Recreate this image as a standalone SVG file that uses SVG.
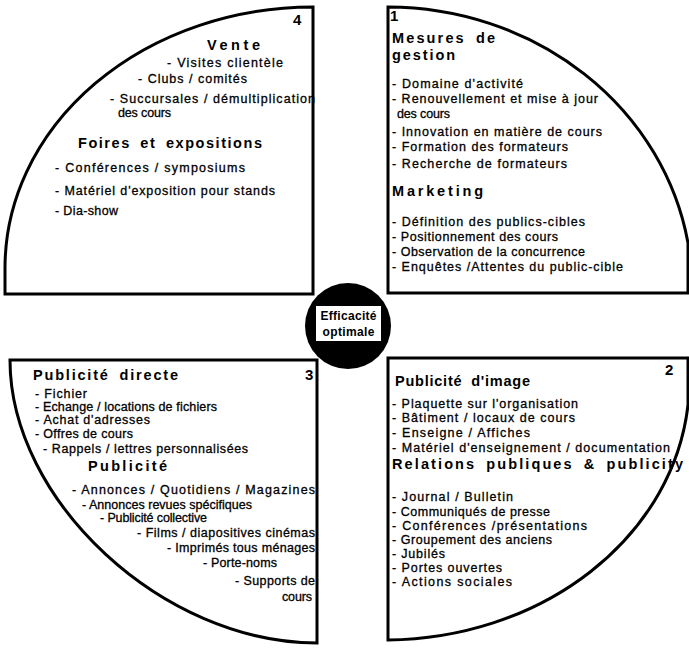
<svg xmlns="http://www.w3.org/2000/svg" width="689" height="648" viewBox="0 0 689 648">
<style>
.q{fill:#fff;stroke:#000;stroke-width:3;stroke-linejoin:miter}
.t{font-family:"Liberation Sans",Arial,sans-serif;font-size:12.5px;fill:#000;stroke:#000;stroke-width:0.3px}
.h{font-family:"Liberation Sans",Arial,sans-serif;font-size:14.5px;font-weight:bold;word-spacing:4px;fill:#000}
.n{font-family:"Liberation Sans",Arial,sans-serif;font-size:15px;font-weight:bold;fill:#000}
.c{font-family:"Liberation Sans",Arial,sans-serif;font-size:12px;font-weight:bold;text-anchor:middle;fill:#000}
</style>
<rect width="689" height="648" fill="#fff"/>
<g id="connectors"></g>
<g id="q4">
<path class="q" d="M313,7 L313,294 L5,294 L5,268 A308,261 0 0 1 313,7 Z"/>
<text class="n" x="293" y="25">4</text>
<text class="h" x="207" y="50" textLength="53">Vente</text>
<text class="t" x="167" y="67" textLength="116">- Visites clientèle</text>
<text class="t" x="138" y="83" textLength="109">- Clubs / comités</text>
<text class="t" x="110" y="103" textLength="205">- Succursales / démultiplication</text>
<text class="t" x="118" y="117" textLength="53">des cours</text>
<text class="h" x="78" y="148" textLength="184">Foires et expositions</text>
<text class="t" x="55" y="172" textLength="190">- Conférences / symposiums</text>
<text class="t" x="55" y="195" textLength="220">- Matériel d'exposition pour stands</text>
<text class="t" x="55" y="215" textLength="63">- Dia-show</text>
</g>
<g id="q1">
<path class="q" d="M388,7 A305,283 0 0 1 688,243 L688,293 L388,293 Z"/>
<text class="n" x="390" y="21">1</text>
<text class="h" x="392" y="43" textLength="103">Mesures de</text>
<text class="h" x="392" y="60" textLength="63">gestion</text>
<text class="t" x="392" y="88" textLength="131">- Domaine d'activité</text>
<text class="t" x="392" y="103" textLength="206">- Renouvellement et mise à jour</text>
<text class="t" x="397" y="118" textLength="53">des cours</text>
<text class="t" x="392" y="136" textLength="210">- Innovation en matière de cours</text>
<text class="t" x="392" y="151" textLength="176">- Formation des formateurs</text>
<text class="t" x="392" y="168" textLength="175">- Recherche de formateurs</text>
<text class="h" x="392" y="196" textLength="91">Marketing</text>
<text class="t" x="392" y="226" textLength="193">- Définition des publics-cibles</text>
<text class="t" x="392" y="241" textLength="166">- Positionnement des cours</text>
<text class="t" x="392" y="256" textLength="193">- Observation de la concurrence</text>
<text class="t" x="392" y="271" textLength="231">- Enquêtes /Attentes du public-cible</text>
</g>
<g id="q3">
<path class="q" d="M10,360 L317,360 L317,643 C163,643 10,501 10,360 Z"/>
<text class="h" x="33" y="380" textLength="145">Publicité directe</text>
<text class="n" x="305" y="380">3</text>
<text class="t" x="35" y="398" textLength="52">- Fichier</text>
<text class="t" x="35" y="411" textLength="182">- Echange / locations de fichiers</text>
<text class="t" x="35" y="424" textLength="115">- Achat d'adresses</text>
<text class="t" x="35" y="438" textLength="98">- Offres de cours</text>
<text class="t" x="43" y="453" textLength="205">- Rappels / lettres personnalisées</text>
<text class="h" x="88" y="471" textLength="79">Publicité</text>
<text class="t" x="72" y="494" textLength="243">- Annonces / Quotidiens / Magazines</text>
<text class="t" x="82" y="509" textLength="170">- Annonces revues spécifiques</text>
<text class="t" x="100" y="522" textLength="107">- Publicité collective</text>
<text class="t" x="137" y="537" textLength="178">- Films / diapositives cinémas</text>
<text class="t" x="167" y="552" textLength="148">- Imprimés tous ménages</text>
<text class="t" x="203" y="567" textLength="74">- Porte-noms</text>
<text class="t" x="235" y="585" textLength="80">- Supports de</text>
<text class="t" x="282" y="601" textLength="30">cours</text>
</g>
<g id="q2">
<path class="q" d="M388,358 L688,358 L688,405 A305,260 0 0 1 388,640 Z"/>
<text class="h" x="395" y="386" textLength="135">Publicité d'image</text>
<text class="n" x="665" y="375">2</text>
<text class="t" x="392" y="408" textLength="186">- Plaquette sur l'organisation</text>
<text class="t" x="392" y="422" textLength="183">- Bâtiment / locaux de cours</text>
<text class="t" x="392" y="437" textLength="138">- Enseigne / Affiches</text>
<text class="t" x="392" y="452" textLength="278">- Matériel d'enseignement / documentation</text>
<text class="h" x="392" y="469" textLength="291">Relations publiques &amp; publicity</text>
<text class="t" x="392" y="501" textLength="121">- Journal / Bulletin</text>
<text class="t" x="392" y="516" textLength="158">- Communiqués de presse</text>
<text class="t" x="392" y="530" textLength="195">- Conférences /présentations</text>
<text class="t" x="392" y="544" textLength="160">- Groupement des anciens</text>
<text class="t" x="392" y="558" textLength="53">- Jubilés</text>
<text class="t" x="392" y="572" textLength="110">- Portes ouvertes</text>
<text class="t" x="392" y="586" textLength="120">- Actions sociales</text>
</g>
<g id="center">
<circle cx="348" cy="326" r="43" fill="#000"/>
<rect x="316" y="306" width="65" height="35" fill="#fff"/>
<text class="c" x="348.5" y="320" textLength="56">Efficacité</text>
<text class="c" x="348.5" y="336" textLength="52">optimale</text>
</g>
</svg>
